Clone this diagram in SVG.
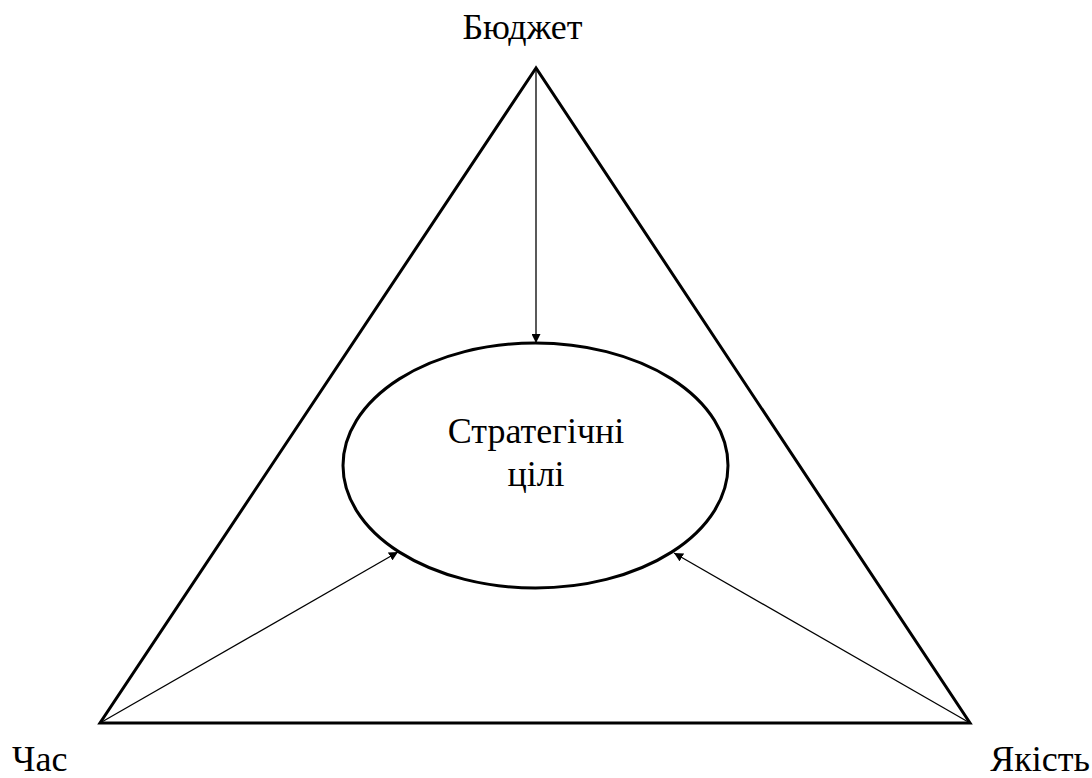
<svg xmlns="http://www.w3.org/2000/svg" width="1092" height="778" viewBox="0 0 1092 778">
<defs>
<marker id="arr" viewBox="0 0 10 10" refX="10" refY="5" markerWidth="9" markerHeight="9" markerUnits="userSpaceOnUse" orient="auto">
<path d="M0,0 L10,5 L0,10 Z" fill="#000"/>
</marker>
<style>
text{font-family:'Liberation Serif','DejaVu Serif','Times New Roman',serif;font-size:36px;fill:#000;}
.thick{fill:none;stroke:#000;stroke-width:3;}
.conn{fill:none;stroke:#000;stroke-width:1.3;}
</style>
</defs>
<rect width="1092" height="778" fill="#fff"/>
<g id="triangle">
<polygon class="thick" points="536,68 100,723 970,723" stroke-linejoin="miter"/>
</g>
<g id="goals">
<ellipse class="thick" cx="535.5" cy="465.5" rx="192.5" ry="122.5"/>
<text x="536" y="443" text-anchor="middle" font-family="Liberation Serif, serif">Стратегічні</text>
<text x="536" y="486" text-anchor="middle" font-family="Liberation Serif, serif">цілі</text>
</g>
<g id="budget">
<text x="522.5" y="39" text-anchor="middle" font-family="Liberation Serif, serif">Бюджет</text>
</g>
<g id="time">
<text x="12" y="771" font-family="Liberation Serif, serif">Час</text>
</g>
<g id="quality">
<text x="1090" y="771" text-anchor="end" font-family="Liberation Serif, serif">Якість</text>
</g>
<g id="connectors">
<line class="conn" x1="536" y1="68" x2="536" y2="343" marker-end="url(#arr)"/>
<line class="conn" x1="100" y1="723" x2="398" y2="552" marker-end="url(#arr)"/>
<line class="conn" x1="970" y1="723" x2="674" y2="553" marker-end="url(#arr)"/>
</g>
</svg>
